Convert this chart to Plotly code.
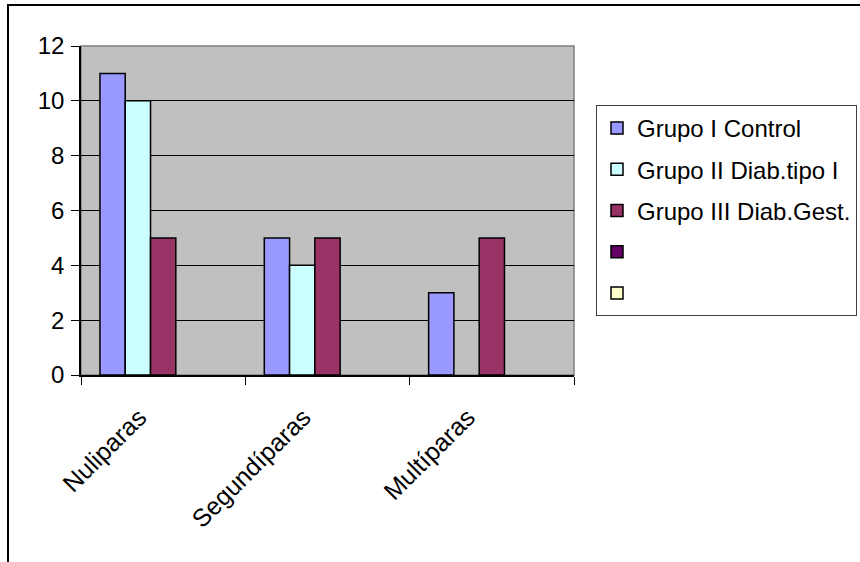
import plotly.graph_objects as go

# Paridad por grupo de estudio
categorias = ["Nuliparas", "Segundíparas", "Multíparas"]
grupo_i_control = [11, 5, 3]
grupo_ii_diab_tipo_i = [10, 4, None]
grupo_iii_diab_gest = [5, 5, 5]
serie_4 = [None, None, None]
serie_5 = [None, None, None]

series = [
    ("Grupo I Control", grupo_i_control, "#9999FF"),
    ("Grupo II Diab.tipo I", grupo_ii_diab_tipo_i, "#CCFFFF"),
    ("Grupo III Diab.Gest.", grupo_iii_diab_gest, "#993366"),
    ("", serie_4, "#660066"),
    ("", serie_5, "#FFFFCC"),
]

FONT = "Arial, Liberation Sans, sans-serif"

fig = go.Figure()
for i, (nombre, valores, color) in enumerate(series):
    fig.add_trace(go.Bar(
        x=categorias,
        y=valores,
        name=nombre,
        legendgroup=f"g{i}",
        marker=dict(color=color, line=dict(color="black", width=1.5)),
    ))

ml, mt, mr, mb = 81, 46, 286, 187
W, H = 860, 562
pw, ph = W - ml - mr, H - mt - mb

fig.update_layout(
    width=W,
    height=H,
    margin=dict(l=ml, r=mr, t=mt, b=mb, pad=0, autoexpand=False),
    paper_bgcolor="white",
    plot_bgcolor="#C0C0C0",
    barmode="group",
    bargap=1.5 / 6.5,
    bargroupgap=0,
    font=dict(family=FONT, size=24, color="black"),
    showlegend=True,
    legend=dict(
        xref="container",
        yref="container",
        x=596 / W,
        y=1 - 105 / H,
        xanchor="left",
        yanchor="top",
        bgcolor="white",
        bordercolor="#404040",
        borderwidth=1,
        tracegroupgap=7,
        font=dict(family=FONT, size=24, color="black"),
        itemclick=False,
    ),
    xaxis=dict(
        type="category",
        tickson="boundaries",
        ticks="outside",
        ticklen=8,
        tickcolor="black",
        tickwidth=1,
        tickangle=-45,
        ticklabelshift=-24,
        ticklabelstandoff=16,
        showline=True,
        linecolor="black",
        linewidth=1.5,
        showgrid=False,
        tickfont=dict(family=FONT, size=25, color="black"),
    ),
    yaxis=dict(
        range=[0, 12],
        dtick=2,
        tick0=0,
        ticks="outside",
        ticklen=8,
        tickcolor="black",
        tickwidth=1,
        showline=True,
        linecolor="black",
        linewidth=1.5,
        showgrid=True,
        gridcolor="black",
        gridwidth=1,
        zeroline=False,
        ticklabelstandoff=2,
        tickfont=dict(family=FONT, size=24, color="black"),
    ),
    shapes=[
        # borde gris del área de trazado
        dict(type="rect", xref="paper", yref="paper", x0=0, x1=1, y0=0, y1=1,
             line=dict(color="#808080", width=1.5), layer="below"),
        # marco exterior del gráfico
        dict(type="rect", xref="paper", yref="paper",
             x0=(8 - ml) / pw, x1=(W + 20 - ml) / pw,
             y0=-(mb + 20) / ph, y1=(H - mb - 5) / ph,
             line=dict(color="black", width=2)),
    ],
)

fig.write_html("out.html")
